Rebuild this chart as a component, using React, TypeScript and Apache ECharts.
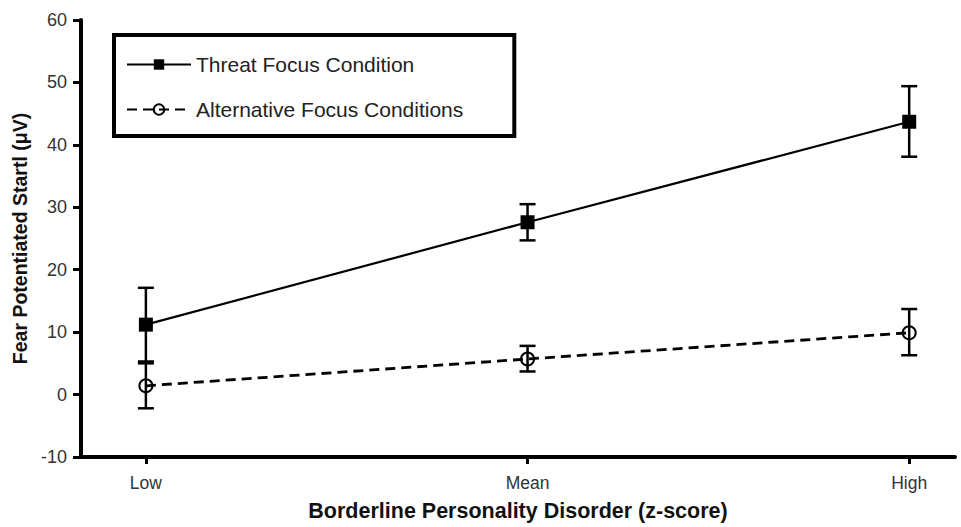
import React, { useEffect, useRef } from "react";
import * as echarts from "echarts";

const categories = ["Low", "Mean", "High"];
const threatMean = [11.2, 27.6, 43.7];
const threatLow = [5.3, 24.7, 38.1];
const threatHigh = [17.1, 30.5, 49.4];
const altMean = [1.4, 5.7, 9.9];
const altLow = [-2.2, 3.7, 6.3];
const altHigh = [5.0, 7.8, 13.7];
const yTicks = [-10, 0, 10, 20, 30, 40, 50, 60];

const FONT = "'Liberation Sans Narrow', 'Liberation Sans', Arial, sans-serif";
const BOLD = "'Liberation Sans', Arial, sans-serif";

export default function App() {
  const ref = useRef<HTMLDivElement>(null);
  useEffect(() => {
    if (!ref.current) return;
    const chart = echarts.init(ref.current, null, { renderer: "svg" });
    const errData = [
      ...categories.map((_, i) => [i, threatLow[i], threatHigh[i]]),
      ...categories.map((_, i) => [i, altLow[i], altHigh[i]]),
    ];
    chart.setOption({
      animation: false,
      backgroundColor: "#fff",
      grid: { left: 81, right: 6, top: 20, bottom: 67 },
      legend: {
        orient: "vertical",
        left: 114,
        top: 35,
        padding: [19, 51, 16, 12],
        itemGap: 24,
        itemWidth: 64,
        itemHeight: 13,
        borderColor: "#000",
        borderWidth: 4,
        textStyle: { fontFamily: BOLD, fontSize: 21, color: "#222" },
        data: ["Threat Focus Condition", "Alternative Focus Conditions"],
      },
      xAxis: {
        type: "value",
        min: -0.17,
        max: 2.12,
        splitLine: { show: false },
        axisLine: { show: true, onZero: false, lineStyle: { color: "#000", width: 4 } },
        axisTick: { show: true, customValues: [0, 1, 2], length: 7, lineStyle: { color: "#000", width: 3 } },
        axisLabel: {
          customValues: [0, 1, 2],
          formatter: (v: number) => categories[Math.round(v)],
          fontFamily: FONT,
          fontSize: 17.5,
          color: "#333",
          margin: 17,
        },
        name: "Borderline Personality Disorder (z-score)",
        nameLocation: "middle",
        nameGap: 43,
        nameTextStyle: { fontFamily: BOLD, fontWeight: "bold", fontSize: 21.5, color: "#111" },
      },
      yAxis: {
        type: "value",
        min: yTicks[0],
        max: yTicks[yTicks.length - 1],
        interval: 10,
        splitLine: { show: false },
        axisLine: { show: true, onZero: false, lineStyle: { color: "#000", width: 4 } },
        axisTick: { show: true, length: 8, lineStyle: { color: "#000", width: 3 } },
        axisLabel: { fontFamily: FONT, fontSize: 18, color: "#333", margin: 14 },
        name: "Fear Potentiated Startl (\u03bcV)",
        nameLocation: "middle",
        nameGap: 48,
        nameTextStyle: { fontFamily: BOLD, fontWeight: "bold", fontSize: 19.5, color: "#111" },
      },
      series: [
        {
          type: "custom",
          z: 3,
          data: errData,
          renderItem: (params: any, api: any) => {
            const x = api.value(0);
            const lo = api.coord([x, api.value(1)]);
            const hi = api.coord([x, api.value(2)]);
            const w = 8;
            const style = { stroke: "#000", lineWidth: 2.5 };
            return {
              type: "group",
              children: [
                { type: "line", shape: { x1: lo[0], y1: lo[1], x2: hi[0], y2: hi[1] }, style },
                { type: "line", shape: { x1: lo[0] - w, y1: lo[1], x2: lo[0] + w, y2: lo[1] }, style },
                { type: "line", shape: { x1: hi[0] - w, y1: hi[1], x2: hi[0] + w, y2: hi[1] }, style },
              ],
            };
          },
        },
        {
          name: "Threat Focus Condition",
          type: "line",
          z: 4,
          data: threatMean.map((v, i) => [i, v]),
          symbol: "rect",
          symbolSize: 14,
          lineStyle: { color: "#000", width: 2.2 },
          itemStyle: { color: "#000" },
        },
        {
          name: "Alternative Focus Conditions",
          type: "line",
          z: 4,
          data: altMean.map((v, i) => [i, v]),
          symbol: "circle",
          symbolSize: 13,
          lineStyle: { color: "#000", width: 2.8, type: [10, 6] },
          itemStyle: { color: "rgba(255,255,255,0)", borderColor: "#000", borderWidth: 2 },
        },
      ],
    });
    return () => chart.dispose();
  }, []);
  return (
    <div
      ref={ref}
      style={{ position: "absolute", left: 0, top: 0, width: 961, height: 527 }}
    />
  );
}
